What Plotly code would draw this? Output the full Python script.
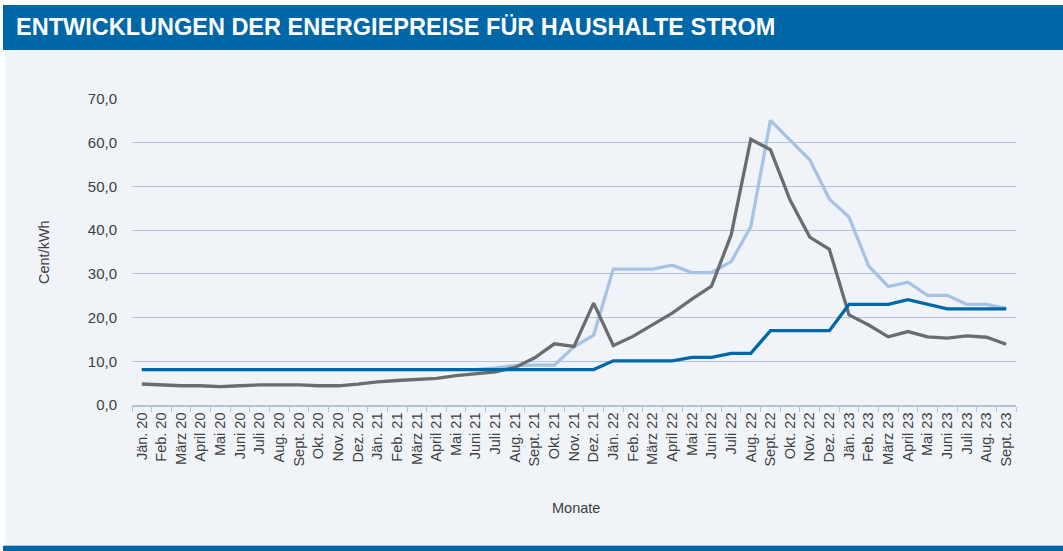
import plotly.graph_objects as go

months = ["Jän. 20","Feb. 20","März 20","April 20","Mai 20","Juni 20","Juli 20","Aug. 20","Sept. 20","Okt. 20","Nov. 20","Dez. 20",
          "Jän. 21","Feb. 21","März 21","April 21","Mai 21","Juni 21","Juli 21","Aug. 21","Sept. 21","Okt. 21","Nov. 21","Dez. 21",
          "Jän. 22","Feb. 22","März 22","April 22","Mai 22","Juni 22","Juli 22","Aug. 22","Sept. 22","Okt. 22","Nov. 22","Dez. 22",
          "Jän. 23","Feb. 23","März 23","April 23","Mai 23","Juni 23","Juli 23","Aug. 23","Sept. 23"]

series_light = [8.1,8.1,8.1,8.1,8.1,8.1,8.1,8.1,8.1,8.1,8.1,8.1,
                8.1,8.1,8.1,8.1,8.1,8.1,8.5,9.0,9.1,9.1,13.3,16.0,
                31.1,31.1,31.1,32.0,30.3,30.3,32.8,40.8,65.1,60.6,56.1,47.1,
                43.0,31.8,27.1,28.1,25.1,25.1,23.0,23.0,22.1]

series_dark = [8.1,8.1,8.1,8.1,8.1,8.1,8.1,8.1,8.1,8.1,8.1,8.1,
               8.1,8.1,8.1,8.1,8.1,8.1,8.1,8.1,8.1,8.1,8.1,8.1,
               10.1,10.1,10.1,10.1,10.9,10.9,11.8,11.8,17.0,17.0,17.0,17.0,
               23.0,23.0,23.0,24.1,23.1,22.0,22.0,22.0,22.0]

series_gray = [4.8,4.6,4.4,4.4,4.2,4.4,4.6,4.6,4.6,4.4,4.4,4.8,
               5.3,5.6,5.8,6.1,6.7,7.1,7.6,8.6,10.8,14.0,13.4,23.3,
               13.6,15.7,18.3,21.0,24.2,27.2,38.9,60.8,58.4,46.9,38.4,35.6,
               20.6,18.3,15.6,16.8,15.6,15.3,15.8,15.5,13.9]

title_text = "ENTWICKLUNGEN DER ENERGIEPREISE FÜR HAUSHALTE STROM"

W, H = 1063, 551
L, R, T, B = 132, 1016, 99, 405  # plot area pixel bounds

def px(x):
    return (x - L) / (R - L)

def py(y):
    return (B - y) / (B - T)

fig = go.Figure()
fig.add_trace(go.Scatter(x=months, y=series_light, mode="lines",
                         line=dict(color="#A7C3E4", width=3.3), name="A"))
fig.add_trace(go.Scatter(x=months, y=series_gray, mode="lines",
                         line=dict(color="#6B6C6F", width=3.3), name="B"))
fig.add_trace(go.Scatter(x=months, y=series_dark, mode="lines",
                         line=dict(color="#0068A9", width=3.3), name="C"))

shapes = [
    dict(type="rect", xref="paper", yref="paper", x0=px(5), x1=px(W + 2), y0=py(546), y1=py(50),
         fillcolor="#F0F4F9", line=dict(width=0), layer="below"),
    dict(type="rect", xref="paper", yref="paper", x0=px(3), x1=px(W + 2), y0=py(50), y1=py(5),
         fillcolor="#0067A6", line=dict(width=0), layer="below"),
    dict(type="rect", xref="paper", yref="paper", x0=px(3), x1=px(W + 2), y0=py(H + 2), y1=py(546),
         fillcolor="#0067A6", line=dict(width=0), layer="below"),
    dict(type="rect", xref="paper", yref="paper", x0=px(3), x1=px(W + 2), y0=py(546), y1=py(545),
         fillcolor="#A9C6E2", line=dict(width=0), layer="below"),
]

fig.update_layout(
    width=W, height=H,
    margin=dict(l=L, r=W - R, t=T, b=H - B, pad=0),
    paper_bgcolor="white", plot_bgcolor="rgba(0,0,0,0)",
    showlegend=False,
    separators=",.",
    font=dict(family="Liberation Sans, Arial, sans-serif", color="#404040", size=14),
    shapes=shapes,
    annotations=[
        dict(text="<b>" + title_text + "</b>", xref="paper", yref="paper",
             x=px(14), y=py(27), xanchor="left", yanchor="middle", showarrow=False,
             font=dict(family="Liberation Sans, Arial, sans-serif", size=23.5, color="white")),
        dict(text="Cent/kWh", xref="paper", yref="paper", x=px(44), y=py(252),
             xanchor="center", yanchor="middle", showarrow=False, textangle=-90,
             font=dict(size=14.5, color="#404040")),
        dict(text="Monate", xref="paper", yref="paper", x=px(576), y=py(508),
             xanchor="center", yanchor="middle", showarrow=False,
             font=dict(size=14.5, color="#404040")),
    ],
    xaxis=dict(
        type="category", showgrid=False, zeroline=False,
        showline=True, linecolor="#B4C2D8", linewidth=1.5,
        ticks="outside", ticklen=5, tickcolor="#B4C2D8", tickson="boundaries",
        tickangle=-90, tickfont=dict(size=14.5, color="#404040"),
        range=[-0.5, len(months) - 0.5],
    ),
    yaxis=dict(
        range=[0, 70], dtick=10, tickformat=".1f",
        showgrid=True, gridcolor="#B4C2D8", gridwidth=1.2,
        zeroline=False, showline=False, ticks="",
        ticklabelstandoff=14, tickfont=dict(size=15, color="#404040"),
    ),
)

fig.write_html("out.html", config={"displayModeBar": False},
               post_script="document.body.style.margin='0';document.body.style.overflow='hidden';")
